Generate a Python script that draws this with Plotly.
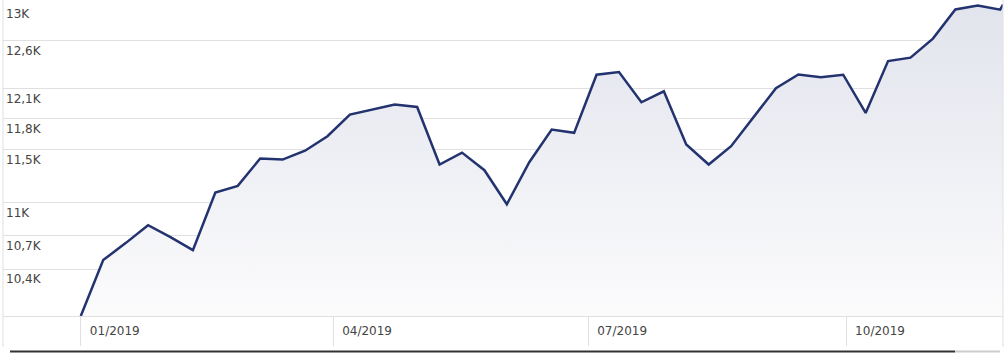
import math
import datetime as dt
import plotly.graph_objects as go

# ---- data ----
start = dt.date(2019, 1, 1)
dates = [start + dt.timedelta(days=8 * i) for i in range(42)] + [dt.date(2019, 11, 26)]
values = [
    10000, 10481, 10631, 10792, 10685, 10569, 11092, 11154, 11413, 11403,
    11488, 11629, 11842, 11895, 11942, 11918, 11356, 11470, 11302, 10983,
    11378, 11695, 11662, 12245, 12272, 11965, 12076, 11548, 11356, 11532,
    11815, 12108, 12248, 12220, 12245, 11858, 12386, 12422, 12622, 12935,
    12978, 12932, 12989,
]
y_tickvals = [10400, 10700, 11000, 11500, 11800, 12100, 12600, 13000]
y_ticktext = ["10,4K", "10,7K", "11K", "11,5K", "11,8K", "12,1K", "12,6K", "13K"]
x_tickvals = ["2019-01-01", "2019-04-01", "2019-07-01", "2019-10-01"]
x_range = ["2018-12-04 06:00", "2019-11-26"]
y_range = [10000, 13005]

LINE = "#23336f"
GRID = "#e0e0e0"
TEXT = "#444444"

fig = go.Figure()
fig.add_trace(go.Scatter(
    x=dates, y=values, mode="lines",
    line=dict(color=LINE, width=2.5),
    fill="tozeroy",
    fillgradient=dict(type="vertical",
                      start=y_range[0], stop=y_range[1],
                      colorscale=[[0, "#fbfbfc"], [1, "#e2e4ed"]]),
    hoverinfo="x+y", showlegend=False,
))

fig.update_layout(
    width=1006, height=353,
    margin=dict(l=3, r=3, t=3, b=37),
    paper_bgcolor="white", plot_bgcolor="white",
    font=dict(family="DejaVu Sans, Verdana, sans-serif", size=12, color=TEXT),
    showlegend=False,
)
fig.update_xaxes(
    type="date", range=x_range,
    tickvals=x_tickvals, tickformat="%m/%Y",
    showgrid=False, zeroline=False,
    showline=True, linecolor=GRID, linewidth=1,
    ticks="outside", ticklen=29, tickcolor=GRID, tickwidth=1,
    ticklabelshift=34, ticklabelstandoff=-25,
    tickfont=dict(size=12, color=TEXT),
)
fig.update_yaxes(
    type="log", range=[math.log10(y_range[0]), math.log10(y_range[1])],
    tickvals=y_tickvals, ticktext=y_ticktext,
    showgrid=True, gridcolor=GRID, gridwidth=1,
    zeroline=False, showline=False,
    ticks="", ticklabelposition="inside", ticklabelshift=10,
    tickfont=dict(size=12, color=TEXT),
)

# frame lines and bottom bar (paper coordinates)
ph = 313.0
fig.add_shape(type="line", xref="paper", yref="paper", x0=0, x1=0,
              y0=(316 - 347) / ph, y1=1.01, line=dict(color=GRID, width=1))
fig.add_shape(type="line", xref="paper", yref="paper", x0=1, x1=1,
              y0=(316 - 347) / ph, y1=1.01, line=dict(color=GRID, width=1))
fig.add_shape(type="line", xref="paper", yref="paper", x0=0.007, x1=0.952,
              y0=(316 - 351.5) / ph, y1=(316 - 351.5) / ph,
              line=dict(color="#333333", width=2))
fig.add_shape(type="line", xref="paper", yref="paper", x0=0.952, x1=0.997,
              y0=(316 - 351.5) / ph, y1=(316 - 351.5) / ph,
              line=dict(color="#cccccc", width=2))

fig.write_html("out.html")
